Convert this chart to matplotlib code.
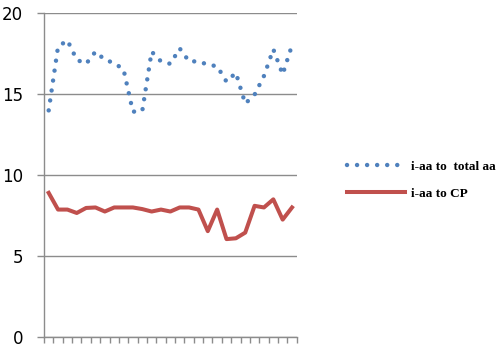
import matplotlib
matplotlib.use("Agg")
import matplotlib.pyplot as plt
import numpy as np

# values, 27 categories
total_aa = [13.98, 17.9, 18.3, 17.1, 16.85, 17.6, 17.1, 16.9, 16.5, 13.9,
            13.95, 17.6, 17.0, 16.85, 17.8, 17.0, 17.0, 16.8, 16.7, 15.75,
            16.3, 14.4, 14.95, 16.1, 17.75, 16.2, 18.0]
cp = [8.9, 7.87, 7.87, 7.66, 7.97, 8.0, 7.75, 8.0, 8.0, 8.0,
      7.9, 7.75, 7.87, 7.75, 8.0, 8.0, 7.87, 6.54, 7.87, 6.05,
      6.1, 6.45, 8.1, 8.0, 8.5, 7.25, 8.0]
labels = ["i-aa to  total aa", "i-aa to CP"]
yticks = [0, 5, 10, 15, 20]

grey = "#8c8c8c"
x = np.arange(len(cp))

fig = plt.figure(figsize=(5, 3.52), dpi=100)
ax = fig.add_axes([44 / 500, 14.7 / 352, 252.7 / 500, 324.6 / 352])

ax.plot(x, total_aa, color="#4F81BD", lw=3.2, linestyle=(0, (0.01, 2.25)),
        dash_capstyle="round", label=labels[0])
ax.plot(x, cp, color="#C0504D", lw=2.9, solid_joinstyle="round",
        label=labels[1])

ax.set_xlim(-0.5, len(cp) - 0.5)
ax.set_ylim(0, 20)
ax.set_yticks(yticks)
ax.set_xticks(np.arange(-0.5, len(cp), 1))
ax.set_xticklabels([])
ax.grid(axis="y", color=grey, lw=1.0)
ax.set_axisbelow(True)
for s in ["top", "right"]:
    ax.spines[s].set_visible(False)
for s in ["left", "bottom"]:
    ax.spines[s].set_color(grey)
    ax.spines[s].set_linewidth(1.0)
ax.tick_params(axis="y", length=5, width=1.0, color=grey, pad=10,
               labelsize=12)
ax.tick_params(axis="x", length=4.5, width=1.0, color=grey)
for t in ax.get_yticklabels():
    t.set_fontfamily("DejaVu Sans")

leg = ax.legend(loc="upper left", bbox_to_anchor=(340 / 500, 1 - 154 / 352),
                bbox_transform=fig.transFigure, frameon=False, borderpad=0,
                handlelength=4.4, handletextpad=0.5, labelspacing=1.1,
                prop={"family": "Liberation Serif", "weight": "bold",
                      "size": 9.5})

fig.savefig("out.png", dpi=100)
